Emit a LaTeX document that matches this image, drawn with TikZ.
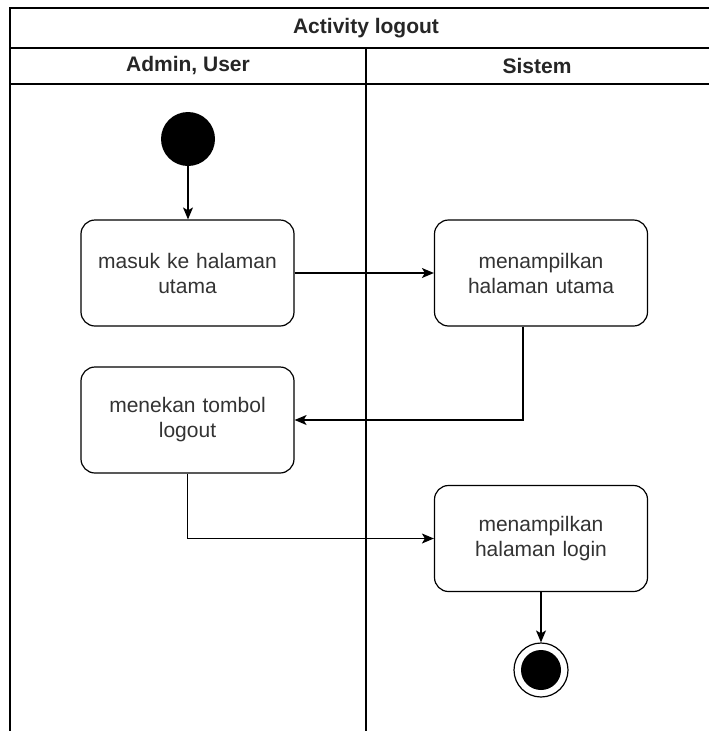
\documentclass[tikz,border=0pt]{standalone}
\usepackage{fontspec}
\setmainfont{Liberation Sans}
\usetikzlibrary{arrows.meta}
\definecolor{txtgray}{HTML}{333333}
\begin{document}
\begin{tikzpicture}[x=1pt,y=-1pt,
  frame/.style={line width=1.3pt,draw=black},
  hdr/.style={font=\fontsize{21}{24}\selectfont\bfseries,text=black!85},
  act/.style={draw=black,line width=1.2pt,rounded corners=14pt,fill=white,
    minimum width=213pt,minimum height=106pt,text width=205pt,align=center,
    font=\fontsize{21}{25}\selectfont,text=txtgray,inner sep=0pt},
  flow/.style={line width=1.2pt,-{Stealth[length=12pt,width=10pt,inset=3pt]}},
  startnode/.style={circle,fill=black,minimum size=54pt,inner sep=0pt},
  endouter/.style={circle,draw=black,line width=1.2pt,fill=white,minimum size=54pt,inner sep=0pt},
  endinner/.style={circle,fill=black,minimum size=40pt,inner sep=0pt}]
\useasboundingbox (0,0) rectangle (709,731);
\fill[white] (0,0) rectangle (709,731);
% frame
\draw[frame] (712,8) -- (10,8) -- (10,733);
\draw[frame] (10,48) -- (712,48);
\draw[frame] (10,84) -- (712,84);
\draw[frame] (366,48) -- (366,733);
\node[hdr] (title) at (366,28) {Activity logout};
\node[hdr] (laneA) at (188,66) {Admin, User};
\node[hdr] (laneB) at (537,66) {Sistem};
% nodes
\node[startnode] (start) at (188,139) {};
\node[act] (b1) at (187.5,273) {masuk ke halaman\\utama};
\node[act] (b2) at (541,273) {menampilkan\\halaman utama};
\node[act] (b3) at (187.5,420) {menekan tombol\\logout};
\node[act] (b4) at (541,538.5) {menampilkan\\halaman login};
\node[endouter] (endo) at (541,670) {};
\node[endinner] (endi) at (541,670) {};
% connectors
\draw[flow] (start) -- (b1.north -| start);
\draw[flow] (b1.east) -- (b2.west);
\draw[flow] ([xshift=-18pt]b2.south) |- (b3.east);
\draw[flow] (b3.south) |- (b4.west);
\draw[flow] (b4.south) -- (endo.north);
\end{tikzpicture}
\end{document}
